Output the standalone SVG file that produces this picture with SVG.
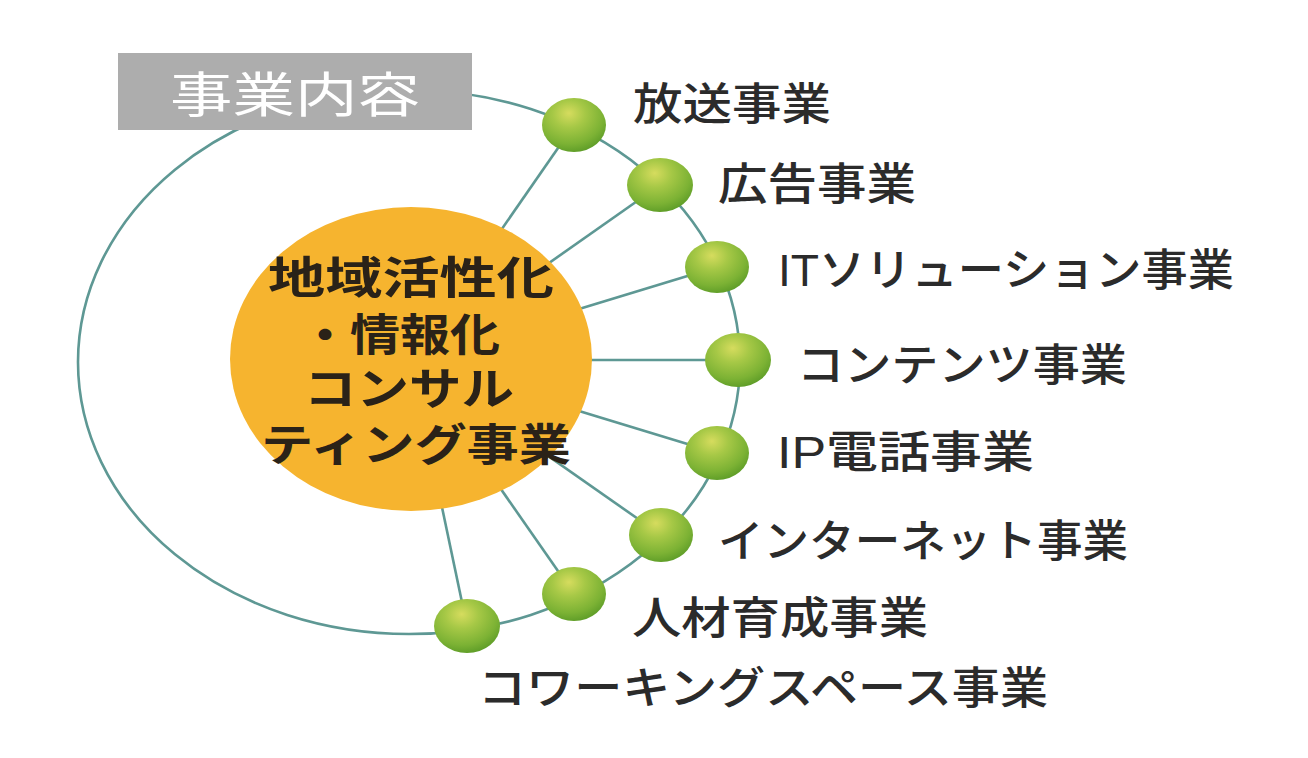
<svg xmlns="http://www.w3.org/2000/svg" width="1308" height="758" viewBox="0 0 1308 758">
  <defs>
    <radialGradient id="ballGrad" cx="0.42" cy="0.32" r="0.72" fx="0.42" fy="0.28">
      <stop offset="0" stop-color="#d6dc5e"/>
      <stop offset="0.35" stop-color="#a6c846"/>
      <stop offset="0.75" stop-color="#7cb234"/>
      <stop offset="1" stop-color="#5a9a26"/>
    </radialGradient>
    <style>
      .conn { fill: none; stroke: #5e9894; stroke-width: 2.6; }
      .ball { fill: url(#ballGrad); }
      .label { font-family: "Liberation Sans", "Noto Sans CJK JP", sans-serif; font-size: 44px; font-weight: 500; fill: #2b2b2b; }
      .center { font-family: "Liberation Sans", "Noto Sans CJK JP", sans-serif; font-size: 44px; font-weight: 700; fill: #2a2218; }
      .boxtext { font-family: "Liberation Sans", "Noto Sans CJK JP", sans-serif; font-size: 48px; font-weight: 400; fill: #ffffff; }
    </style>
  </defs>
  <rect x="0" y="0" width="1308" height="758" fill="#ffffff"/>

  <g id="connectors">
    <ellipse class="conn" cx="409" cy="362" rx="331" ry="272"/>
    <line class="conn" x1="411" y1="360" x2="574" y2="125"/>
    <line class="conn" x1="411" y1="360" x2="660" y2="185"/>
    <line class="conn" x1="411" y1="360" x2="717" y2="267"/>
    <line class="conn" x1="411" y1="360" x2="738" y2="360"/>
    <line class="conn" x1="411" y1="360" x2="717" y2="453"/>
    <line class="conn" x1="411" y1="360" x2="661" y2="535"/>
    <line class="conn" x1="411" y1="360" x2="574" y2="594"/>
    <line class="conn" x1="411" y1="360" x2="467" y2="626"/>
  </g>

  <g id="node-category">
    <rect x="118" y="53" width="354" height="77" fill="#adadad"/>
    <text class="boxtext" x="170" y="112" textLength="250" lengthAdjust="spacingAndGlyphs">事業内容</text>
  </g>

  <g id="node-center">
    <ellipse cx="411" cy="359" rx="181" ry="152" fill="#f6b42f"/>
    <text class="center"><tspan x="268" y="294" textLength="286" lengthAdjust="spacingAndGlyphs">地域活性化</tspan><tspan x="300" y="351" textLength="200" lengthAdjust="spacingAndGlyphs">・情報化</tspan><tspan x="304" y="405" textLength="210" lengthAdjust="spacingAndGlyphs">コンサル</tspan><tspan x="261" y="461" textLength="310" lengthAdjust="spacingAndGlyphs">ティング事業</tspan></text>
  </g>

  <g id="node-broadcast">
    <ellipse class="ball" cx="574" cy="125" rx="32" ry="27"/>
    <text class="label" x="633" y="120" textLength="198" lengthAdjust="spacingAndGlyphs">放送事業</text>
  </g>
  <g id="node-advertising">
    <ellipse class="ball" cx="660" cy="185" rx="33" ry="27"/>
    <text class="label" x="718" y="200" textLength="198" lengthAdjust="spacingAndGlyphs">広告事業</text>
  </g>
  <g id="node-it">
    <ellipse class="ball" cx="717" cy="267" rx="32" ry="26"/>
    <text class="label" x="778" y="286" textLength="456" lengthAdjust="spacingAndGlyphs">ITソリューション事業</text>
  </g>
  <g id="node-contents">
    <ellipse class="ball" cx="738" cy="360" rx="33" ry="27"/>
    <text class="label" x="797" y="381" textLength="330" lengthAdjust="spacingAndGlyphs">コンテンツ事業</text>
  </g>
  <g id="node-ip">
    <ellipse class="ball" cx="717" cy="453" rx="32" ry="27"/>
    <text class="label" x="777" y="468" textLength="257" lengthAdjust="spacingAndGlyphs">IP電話事業</text>
  </g>
  <g id="node-internet">
    <ellipse class="ball" cx="661" cy="535" rx="32" ry="27"/>
    <text class="label" x="718" y="557" textLength="410" lengthAdjust="spacingAndGlyphs">インターネット事業</text>
  </g>
  <g id="node-hr">
    <ellipse class="ball" cx="574" cy="594" rx="32" ry="27"/>
    <text class="label" x="632" y="634" textLength="296" lengthAdjust="spacingAndGlyphs">人材育成事業</text>
  </g>
  <g id="node-coworking">
    <ellipse class="ball" cx="467" cy="626" rx="33" ry="27"/>
    <text class="label" x="478" y="704" textLength="570" lengthAdjust="spacingAndGlyphs">コワーキングスペース事業</text>
  </g>
</svg>
